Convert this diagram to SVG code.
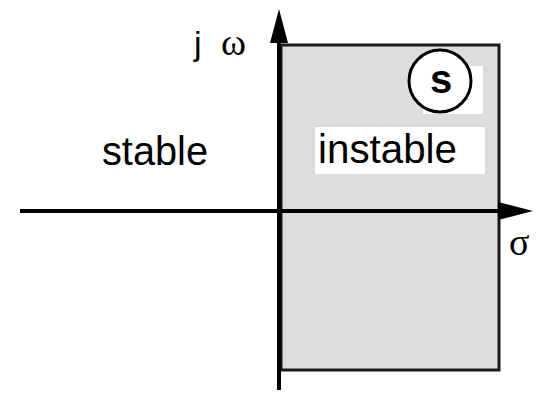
<svg xmlns="http://www.w3.org/2000/svg" width="550" height="398" viewBox="0 0 550 398">
<style>
.t{font-family:"Liberation Sans",Arial,sans-serif;fill:#000}
.g{font-family:"Liberation Serif","Times New Roman",serif;fill:#000}
.ax{stroke:#000;stroke-width:4;fill:none}
</style>
<rect width="550" height="398" fill="#fff"/>
<g id="region">
<rect x="281" y="45" width="218" height="325" fill="#dddddd" stroke="#1a1a1a" stroke-width="3"/>
</g>
<g id="connectors">
<line class="ax" x1="20" y1="211" x2="500" y2="211"/>
<polygon points="498,202 533,211 498,220" fill="#000"/>
<line class="ax" x1="279" y1="390" x2="279" y2="40"/>
<polygon points="270,43 279,9 288,43" fill="#000"/>
</g>
<g id="s-node">
<rect x="423" y="66" width="60" height="48" fill="#fff"/>
<circle cx="440" cy="81" r="31" fill="#fff" stroke="#000" stroke-width="3"/>
<text class="t" x="441" y="93" font-size="40" font-weight="bold" text-anchor="middle">s</text>
</g>
<g id="instable">
<rect x="315" y="127" width="170" height="47" fill="#fff"/>
<text class="t" x="318" y="163" font-size="40" textLength="139" lengthAdjust="spacingAndGlyphs">instable</text>
</g>
<g id="stable">
<text class="t" x="102" y="165" font-size="40" textLength="106" lengthAdjust="spacingAndGlyphs">stable</text>
</g>
<g id="labels">
<text class="t" x="194" y="55" font-size="34">j</text>
<text class="g" x="221" y="55" font-size="38">ω</text>
<text class="g" x="509" y="255" font-size="38">σ</text>
</g>
</svg>
